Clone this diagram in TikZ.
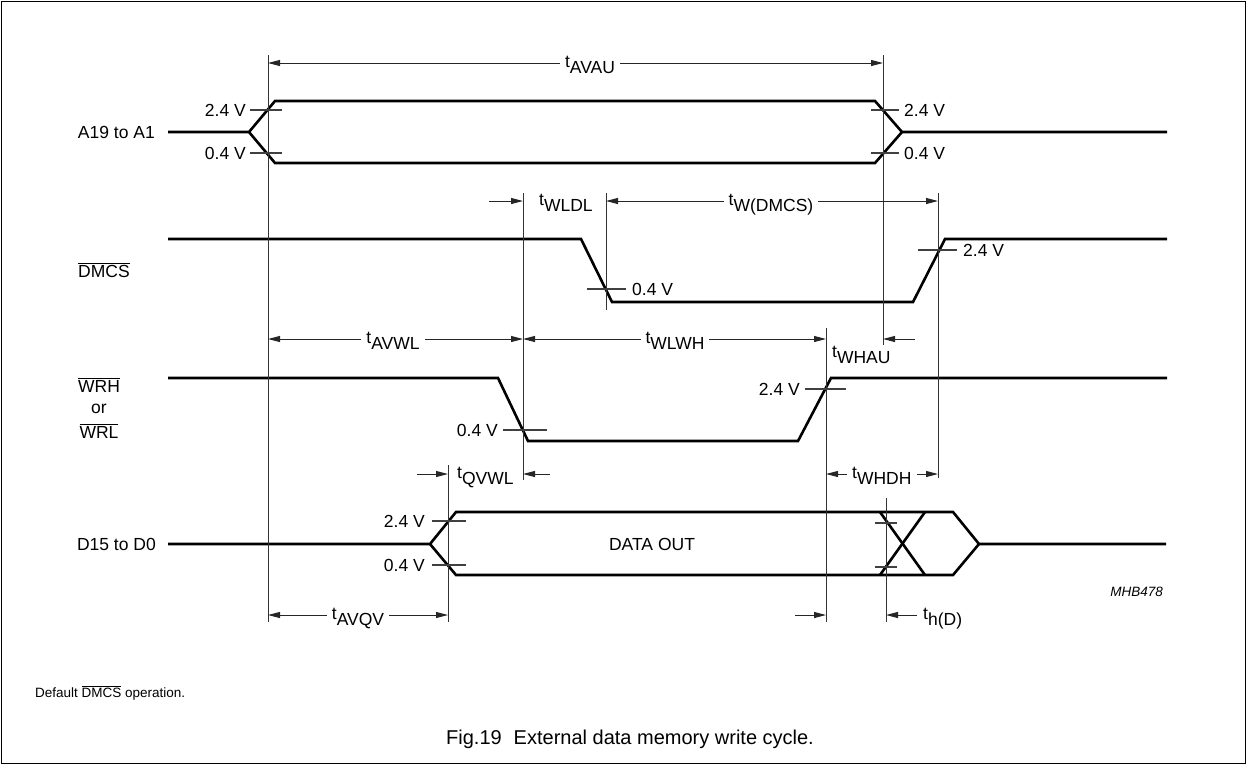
\documentclass[tikz,border=0pt]{standalone}
\usepackage{fontspec}
\setmainfont{Liberation Sans}
\usetikzlibrary{arrows.meta}
\newcommand{\tsub}[1]{t\raisebox{-6pt}{#1}}
\newcommand{\ovl}[1]{$\overline{\hbox{#1}}$}
\begin{document}
\begin{tikzpicture}[x=1pt,y=-1pt,
  sig/.style={line width=2.6pt, line join=miter},
  thinline/.style={line width=1pt, black!80},
  tickline/.style={line width=1.2pt, black!75},
  dimboth/.style={line width=1pt, black!85, {Triangle[length=12pt,width=6pt]}-{Triangle[length=12pt,width=6pt]}},
  dimto/.style={line width=1pt, black!85, -{Triangle[length=12pt,width=6pt]}},
  lbl/.style={font=\fontsize{17.5}{21}\selectfont, inner sep=0pt},
  tlbl/.style={lbl, anchor=base},
  tlblw/.style={lbl, anchor=base west},
  gap/.style={fill=white, inner xsep=5pt}
]
\useasboundingbox (0,0) rectangle (1247,764);
\draw[line width=1pt] (1,1) rectangle (1245.5,763);

% ---- signals
\draw[sig] (168,132) -- (249,132) -- (275,101) -- (875,101) -- (902,132) -- (1167,132);
\draw[sig] (249,132) -- (275,163) -- (875,163) -- (902,132);
\draw[sig] (168,239) -- (581,239) -- (612,302) -- (913,302) -- (945,239) -- (1167,239);
\draw[sig] (168,378) -- (498,378) -- (528,441) -- (798,441) -- (831,378) -- (1167,378);
\draw[sig] (168,544) -- (430,544) -- (456,512) -- (953,512) -- (979,544) -- (1166,544);
\draw[sig] (430,544) -- (456,575) -- (953,575) -- (979,544);
\draw[sig] (880,512) -- (925,575);
\draw[sig] (880,575) -- (925,512);

% ---- vertical reference lines
\draw[thinline] (268,55) -- (268,622);
\draw[thinline] (883,55) -- (883,345);
\draw[thinline] (523,193) -- (523,480);
\draw[thinline] (606,193) -- (606,310);
\draw[thinline] (938,193) -- (938,478);
\draw[thinline] (826,328) -- (826,622);
\draw[thinline] (448,465) -- (448,622);
\draw[thinline] (886,498) -- (886,622);

% ---- level ticks
\draw[tickline] (250,110) -- (282,110);
\draw[tickline] (250,153) -- (282,153);
\draw[tickline] (871,110) -- (899,110);
\draw[tickline] (871,153) -- (899,153);
\draw[tickline] (587,289) -- (626,289);
\draw[tickline] (918,250) -- (957,250);
\draw[tickline] (503,430) -- (547,430);
\draw[tickline] (805,389) -- (846,389);
\draw[tickline] (432,521) -- (466,521);
\draw[tickline] (432,565) -- (466,565);
\draw[tickline] (875,523) -- (897,523);
\draw[tickline] (875,567) -- (897,567);

% ---- level labels
\node[lbl, anchor=east] (a24l) at (246,110) {2.4 V};
\node[lbl, anchor=east] (a04l) at (246,153) {0.4 V};
\node[lbl, anchor=west] (a24r) at (904,110) {2.4 V};
\node[lbl, anchor=west] (a04r) at (904,153) {0.4 V};
\node[lbl, anchor=west] (d04) at (632,289) {0.4 V};
\node[lbl, anchor=west] (d24) at (963,250) {2.4 V};
\node[lbl, anchor=east] (w04) at (498,430) {0.4 V};
\node[lbl, anchor=east] (w24) at (800,389) {2.4 V};
\node[lbl, anchor=east] (q24) at (425,521) {2.4 V};
\node[lbl, anchor=east] (q04) at (425,565) {0.4 V};

% ---- signal names
\node[lbl, anchor=east] (nA) at (155,132) {A19 to A1};
\node[lbl, anchor=base west] (nDMCS) at (78,277) {\ovl{DMCS}};
\node[lbl, anchor=base] (nWRH) at (99,392) {\ovl{WRH}};
\node[lbl, anchor=base] (nor) at (99,413) {or};
\node[lbl, anchor=base] (nWRL) at (99,438) {\ovl{WRL}};
\node[lbl, anchor=east] (nD) at (156,544) {D15 to D0};
\node[lbl] (dout) at (652,544) {DATA OUT};

% ---- timing arrows
\draw[dimboth] (268,63) -- (883,63);
\node[tlbl, gap] (tAVAU) at (590,67) {\tsub{AVAU}};

\draw[dimto] (489,201) -- (523,201);
\node[tlblw] (tWLDL) at (539,205) {\tsub{WLDL}};
\draw[dimboth] (606,201) -- (938,201);
\node[tlbl, gap] (tWDMCS) at (771,205) {\tsub{W(DMCS)}};

\draw[dimboth] (268,339) -- (523,339);
\node[tlbl, gap] (tAVWL) at (393,343) {\tsub{AVWL}};
\draw[dimboth] (523,339) -- (826,339);
\node[tlbl, gap] (tWLWH) at (675,343) {\tsub{WLWH}};
\draw[dimto] (915,339) -- (883,339);
\node[tlblw] (tWHAU) at (832,357) {\tsub{WHAU}};

\draw[dimto] (417,474) -- (448,474);
\node[tlblw] (tQVWL) at (457,478) {\tsub{QVWL}};
\draw[dimto] (550,474) -- (523,474);
\draw[dimto] (847,474) -- (826,474);
\node[tlblw] (tWHDH) at (852,478) {\tsub{WHDH}};
\draw[dimto] (917,474) -- (938,474);

\draw[dimboth] (268,615) -- (448,615);
\node[tlbl, gap] (tAVQV) at (358,619) {\tsub{AVQV}};
\draw[dimto] (795,615) -- (826,615);
\draw[dimto] (917,615) -- (886,615);
\node[tlblw] (thD) at (923,619) {\tsub{h(D)}};

% ---- annotations
\node[font=\fontsize{13.5}{16}\itshape, inner sep=0pt, anchor=east] (mhb) at (1163,592) {MHB478};
\node[font=\fontsize{13.5}{16}\selectfont, inner sep=0pt, anchor=base west] (note) at (35,697) {Default \ovl{DMCS} operation.};
\node[font=\fontsize{20}{24}\selectfont, inner sep=0pt, anchor=base] (cap) at (630,744) {Fig.19\hspace{0.6em}External data memory write cycle.};
\end{tikzpicture}
\end{document}
